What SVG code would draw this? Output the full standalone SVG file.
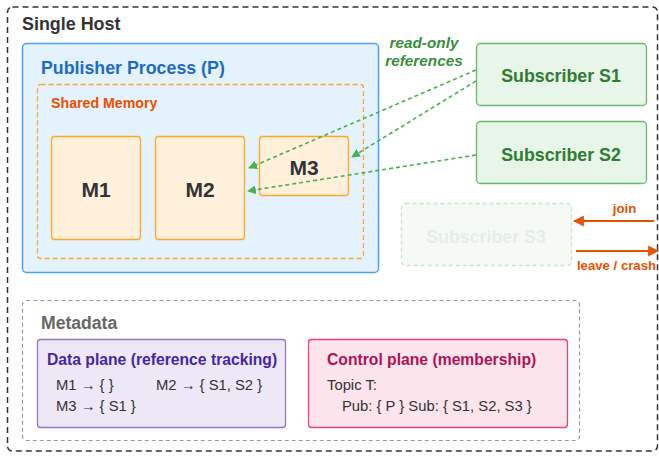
<svg xmlns="http://www.w3.org/2000/svg" width="659" height="456" viewBox="0 0 659 456">
<defs>
<style>
text{font-family:"Liberation Sans",Arial,sans-serif}
.b{font-weight:bold}
.mem{fill:#fff0dc;stroke:#ffa726;stroke-width:1.3}
.mt{font-size:21px;font-weight:bold;fill:#333;text-anchor:middle}
.sub{fill:#e8f5e9;stroke:#66bb6a;stroke-width:1.3}
.st{font-size:17.8px;font-weight:bold;fill:#2e7d32;text-anchor:middle}
.ref{fill:none;stroke:#4caf50;stroke-width:1.6;stroke-dasharray:4 3}
.ev{fill:none;stroke:#e65100;stroke-width:2.2}
.et{font-size:13.2px;font-weight:bold;fill:#e65100;text-anchor:middle}
.body{font-size:14.8px;fill:#333}
.pt{font-size:15.7px;font-weight:bold}
</style>
<marker id="ag" viewBox="0 0 10 10" refX="9" refY="5" markerWidth="5.5" markerHeight="5.5" orient="auto"><path d="M0,0L10,5L0,10z" fill="#4caf50"/></marker>
<marker id="ao" viewBox="0 0 10 10" refX="9" refY="5" markerWidth="5" markerHeight="5" orient="auto"><path d="M0,0L10,5L0,10z" fill="#e65100"/></marker>
</defs>
<g id="host">
<rect x="7.5" y="7" width="650" height="444" rx="5" fill="none" stroke="#333" stroke-width="1.5" stroke-dasharray="6 4"/>
<text x="22" y="30" class="b" font-size="17.9" fill="#333">Single Host</text>
</g>
<g id="publisher">
<rect x="22.5" y="43.5" width="356" height="229" rx="4" fill="#e3f2fd" stroke="#42a5f5" stroke-width="1.5"/>
<text x="41" y="74" class="b" font-size="17.8" fill="#1e6cc0">Publisher Process (P)</text>
</g>
<g id="shared-memory">
<rect x="37.5" y="84.5" width="326" height="174" rx="3" fill="none" stroke="#ffa726" stroke-width="1.3" stroke-dasharray="5 3"/>
<text x="51" y="108" class="b" font-size="14.2" fill="#e65100">Shared Memory</text>
</g>
<g id="M1"><rect class="mem" x="51.5" y="136.5" width="89" height="103" rx="3"/><text class="mt" x="96" y="197">M1</text></g>
<g id="M2"><rect class="mem" x="155.5" y="136.5" width="89" height="103" rx="3"/><text class="mt" x="200" y="197">M2</text></g>
<g id="M3"><rect class="mem" x="259.5" y="136.5" width="89" height="59" rx="3"/><text class="mt" x="304" y="175">M3</text></g>
<g id="S1"><rect class="sub" x="476.5" y="43.5" width="170" height="62" rx="4"/><text class="st" x="561" y="82">Subscriber S1</text></g>
<g id="S2"><rect class="sub" x="476.5" y="121.5" width="170" height="62" rx="4"/><text class="st" x="561" y="161">Subscriber S2</text></g>
<g id="S3" opacity="0.45"><rect x="401.5" y="203.5" width="170" height="62" rx="4" fill="#e8f5e9" stroke="#66bb6a" stroke-width="1.3" stroke-dasharray="4 3" opacity="0.8"/><text x="486" y="243" font-size="17.8" font-weight="bold" fill="#c3dcc4" text-anchor="middle">Subscriber S3</text></g>
<g id="connectors">
<path class="ref" d="M476,70 L249,168" marker-end="url(#ag)"/>
<path class="ref" d="M476,81 L352,157" marker-end="url(#ag)"/>
<path class="ref" d="M476,155 L248,191" marker-end="url(#ag)"/>
<text x="424" y="48" class="b" font-size="15.3" font-style="italic" fill="#388e3c" text-anchor="middle">read-only</text>
<text x="424" y="66" class="b" font-size="15.3" font-style="italic" fill="#388e3c" text-anchor="middle">references</text>
<path class="ev" d="M654,221 L574,221" marker-end="url(#ao)"/>
<text class="et" x="624.5" y="213">join</text>
<path class="ev" d="M576,251 L658,251" marker-end="url(#ao)"/>
<text class="et" x="616.5" y="270">leave / crash</text>
</g>
<g id="metadata">
<rect x="22.5" y="300.5" width="557" height="140" rx="4" fill="none" stroke="#999" stroke-width="1.2" stroke-dasharray="4 3"/>
<text x="41" y="329" class="b" font-size="17.6" fill="#666">Metadata</text>
</g>
<g id="data-plane">
<rect x="37.5" y="339.5" width="248" height="88" rx="3" fill="#ede7f6" stroke="#9575cd" stroke-width="1.3"/>
<text x="47" y="365" class="pt" fill="#4527a0">Data plane (reference tracking)</text>
<text x="56" y="390" class="body">M1 → { }</text>
<text x="156" y="390" class="body">M2 → { S1, S2 }</text>
<text x="56" y="411" class="body">M3 → { S1 }</text>
</g>
<g id="control-plane">
<rect x="308.5" y="339.5" width="259" height="88" rx="3" fill="#fce4ec" stroke="#ec407a" stroke-width="1.3"/>
<text x="327" y="365" class="pt" fill="#ad1457">Control plane (membership)</text>
<text x="327" y="390" class="body">Topic T:</text>
<text x="342" y="411" class="body">Pub: { P } Sub: { S1, S2, S3 }</text>
</g>
</svg>
